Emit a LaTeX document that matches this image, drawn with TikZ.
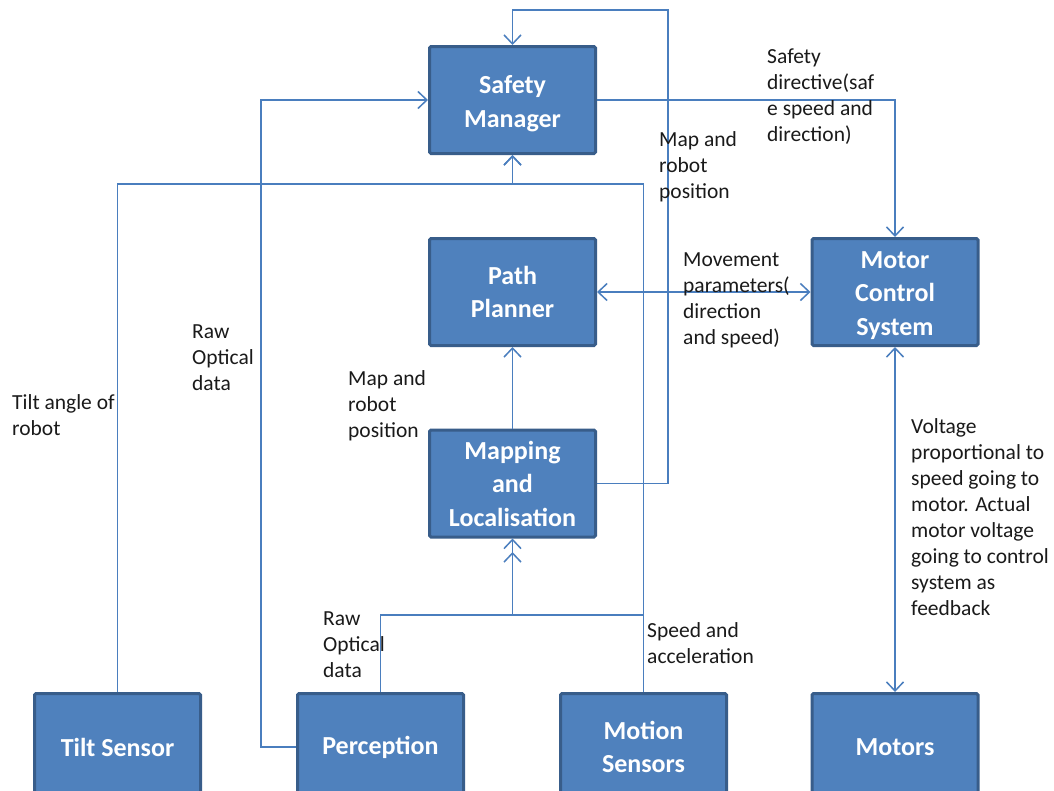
\documentclass[tikz,border=0pt]{standalone}
\usepackage{fontspec}
\setmainfont{Carlito}
\usetikzlibrary{arrows.meta}
\definecolor{boxfill}{RGB}{79,129,189}
\definecolor{boxline}{RGB}{56,93,138}
\definecolor{conn}{RGB}{74,126,190}
\definecolor{txt}{RGB}{26,26,26}
\tikzset{
  blk/.style={draw=boxline, line width=3pt, fill=boxfill, rounded corners=1.5pt,
    minimum width=166pt, minimum height=107pt, inner sep=0pt, align=center,
    text=white, font=\fontsize{26}{33.5}\selectfont\bfseries},
  lbl/.style={anchor=north west, inner sep=0pt, align=left, text=txt,
    font=\fontsize{21.5}{26}\selectfont},
  conline/.style={draw=conn, line width=1.5pt},
  arr/.style={conline, -{Straight Barb[length=9pt,width=17pt]}},
  arrb/.style={conline, {Straight Barb[length=9pt,width=17pt]}-{Straight Barb[length=9pt,width=17pt]}}
}
\begin{document}
\begin{tikzpicture}[x=1pt,y=-1pt]
\useasboundingbox (0,0) rectangle (1054,790);
\clip (0,0) rectangle (1054,790);
\fill[white] (0,0) rectangle (1054,790);

% boxes
\node[blk] (safety) at (512.5,100) {\rule{0pt}{25pt}Safety\\Manager};
\node[blk] (path)   at (512.5,292) {Path\\Planner};
\node[blk] (map)    at (512.5,483.5) {Mapping\\and\\Localisation};
\node[blk] (mcs)    at (895,292) {\rule{0pt}{23.5pt}Motor\\Control\\System};
\node[blk] (tilt)   at (117.5,747) {Tilt Sensor};
\node[blk] (perc)   at (380.5,747) {Perception};
\node[blk] (motion) at (643.5,747) {Motion\\Sensors};
\node[blk] (motors) at (895,747) {Motors};

% helper coordinates
\coordinate (loopTR) at (668,10);
\coordinate (jS) at (512.5,184);
\coordinate (jM) at (512.5,615);
\coordinate (jM2) at (512.5,552);
\coordinate (pL) at (261,100);

% connectors
\draw[arr] (map.east) -| (loopTR) -| (safety.north);
\draw[arr] (tilt.north) |- (jS) -- (safety.south);
\draw[arr] (motion.north) |- (jS) -- (safety.south);
\draw[arr] (perc.west) -| (pL) -- (safety.west);
\draw[arr] (safety.east) -| (mcs.north);
\draw[arrb] (path.east) -- (mcs.west);
\draw[arr] (map.north) -- (path.south);
\draw[arrb] (mcs.south) -- (motors.north);
\draw[arr] (perc.north) |- (jM) -- (map.south);
\draw[arr] (motion.north) |- (jM) -- (jM2);

% labels
\node[lbl] (l1) at (767,44.8) {\strut Safety\\directive(saf\\e speed and\\direction)};
\node[lbl] (l2) at (659,127.8) {\strut Map and\\robot\\position};
\node[lbl] (l3) at (683,247.8) {\strut Movement\\parameters(\\direction\\and speed)};
\node[lbl] (l4) at (192,319.8) {\strut Raw\\Optical\\data};
\node[lbl] (l5) at (12,390.8) {\strut Tilt angle of\\robot};
\node[lbl] (l6) at (348,366.8) {\strut Map and\\robot\\position};
\node[lbl] (l7) at (323,606.8) {\strut Raw\\Optical\\data};
\node[lbl] (l8) at (647,618.8) {\strut Speed and\\acceleration};
\node[lbl] (l9) at (911,414.8) {\strut Voltage\\proportional to\\speed going to\\motor. Actual\\motor voltage\\going to control\\system as\\feedback};
\end{tikzpicture}
\end{document}
